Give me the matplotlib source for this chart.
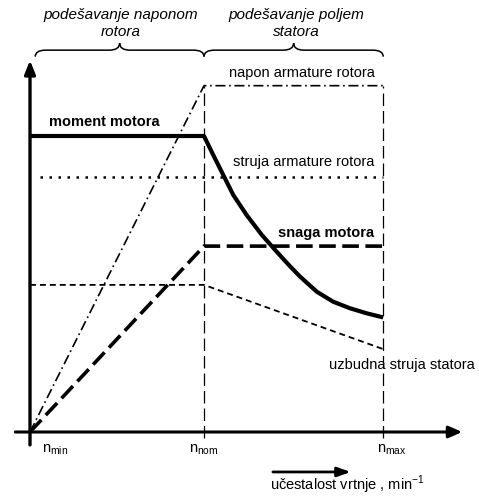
import numpy as np
import matplotlib
matplotlib.use("Agg")
import matplotlib.pyplot as plt
from matplotlib.path import Path
from matplotlib.patches import PathPatch, FancyArrowPatch

plt.rcParams['font.family'] = ['Liberation Sans', 'DejaVu Sans']

# speed points (relative, n_min = 0, n_nom = 1)
n_min = 0.0
n_nom = 1.0
n_max = 2.03

# napon armature rotora
napon_x = [0.0, 1.0, 1.0, 2.03]
napon_y = [0.0, 1.17, 1.17, 1.17]

# moment motora
moment_x = [0.0, 1.0, 1.053, 1.111, 1.168, 1.245, 1.332, 1.418, 1.494, 1.552,
            1.648, 1.743, 1.839, 1.935, 2.03]
moment_y = [1.0, 1.0, 0.936, 0.868, 0.801, 0.733, 0.666, 0.609, 0.560, 0.525,
            0.474, 0.440, 0.418, 0.401, 0.387]

# struja armature rotora
struja_x = [0.057, 2.03]
struja_y = [0.861, 0.861]

# snaga motora
snaga_x = [0.0, 1.0, 2.03]
snaga_y = [0.0, 0.628, 0.628]

# uzbudna struja statora
uzb_x = [0.0, 1.0, 2.03]
uzb_y = [0.497, 0.497, 0.28]

fig = plt.figure(figsize=(4.79, 4.98), dpi=100)
ax = fig.add_axes([0, 0, 1, 1])
ax.set_xlim(-30 / 174, 449 / 174)
ax.set_ylim(-66 / 296, 432 / 296)
ax.axis('off')

# guides
ax.plot([n_nom, n_nom], [-0.02, 1.17], color='black', lw=0.9, linestyle=(0, (10, 4)))
ax.plot([n_max, n_max], [-0.02, 1.17], color='black', lw=0.9, linestyle=(0, (10, 4)))

ax.plot(napon_x, napon_y, color='black', lw=1.2, linestyle=(0, (6, 2.2, 1, 2.2)))
ax.plot(struja_x, struja_y, color='black', lw=1.8, linestyle=(0, (1, 2.6)))
ax.plot(uzb_x, uzb_y, color='black', lw=1.3, linestyle=(0, (3.3, 2.2)))
ax.plot(snaga_x, snaga_y, color='black', lw=2.6, linestyle=(0, (4.6, 1.8)))
ax.plot(moment_x, moment_y, color='black', lw=3.0, solid_capstyle='butt', solid_joinstyle='round')

# axes with arrows
ax.add_patch(FancyArrowPatch((-0.1, 0), (2.5, 0), arrowstyle='-|>,head_length=8,head_width=3.5',
                             mutation_scale=1, color='black', lw=2.2))
ax.add_patch(FancyArrowPatch((0, -0.053), (0, 1.265), arrowstyle='-|>,head_length=8,head_width=3.2',
                             mutation_scale=1, color='black', lw=2.4))
ax.add_patch(FancyArrowPatch((1.38, -0.135), (1.86, -0.135), arrowstyle='-|>,head_length=8,head_width=2.8',
                             mutation_scale=1, color='black', lw=2.0))


def brace(x0, x1, yb, h):
    xm = (x0 + x1) / 2
    w = 0.06
    verts = [(x0, yb - h * 0.55), (x0, yb), (x0 + w, yb),
             (xm - w, yb), (xm, yb), (xm, yb + h * 0.6),
             (xm, yb), (xm + w, yb),
             (x1 - w, yb), (x1, yb), (x1, yb - h * 0.55)]
    codes = [Path.MOVETO, Path.CURVE3, Path.CURVE3,
             Path.LINETO, Path.CURVE3, Path.CURVE3,
             Path.CURVE3, Path.CURVE3,
             Path.LINETO, Path.CURVE3, Path.CURVE3]
    ax.add_patch(PathPatch(Path(verts, codes), fill=False, lw=1.1, color='black'))


brace(0.03, n_nom, 1.29, 0.04)
brace(n_nom, n_max, 1.29, 0.04)

fs = 10.5
ax.text(0.52, 1.41, 'podešavanje naponom', style='italic', fontsize=fs + 0.5, ha='center', va='center')
ax.text(0.52, 1.35, 'rotora', style='italic', fontsize=fs + 0.5, ha='center', va='center')
ax.text(1.53, 1.41, 'podešavanje poljem', style='italic', fontsize=fs + 0.5, ha='center', va='center')
ax.text(1.53, 1.35, 'statora', style='italic', fontsize=fs + 0.5, ha='center', va='center')

ax.text(1.98, 1.214, 'napon armature rotora', fontsize=fs, ha='right', va='center')
ax.text(0.11, 1.048, 'moment motora', fontsize=fs, fontweight='bold', ha='left', va='center')
ax.text(1.98, 0.912, 'struja armature rotora', fontsize=fs, ha='right', va='center')
ax.text(1.98, 0.672, 'snaga motora', fontsize=fs, fontweight='bold', ha='right', va='center')
ax.text(1.72, 0.226, 'uzbudna struja statora', fontsize=fs, ha='left', va='center')

ax.text(0.07, -0.06, r'n$_{\mathregular{min}}$', fontsize=fs, ha='left', va='center')
ax.text(n_nom, -0.06, r'n$_{\mathregular{nom}}$', fontsize=fs, ha='center', va='center')
ax.text(n_max + 0.05, -0.06, r'n$_{\mathregular{max}}$', fontsize=fs, ha='center', va='center')
ax.text(1.38, -0.18, r'učestalost vrtnje , min$^{\mathregular{-1}}$', fontsize=fs, ha='left', va='center')

fig.savefig('out.png', dpi=100)
